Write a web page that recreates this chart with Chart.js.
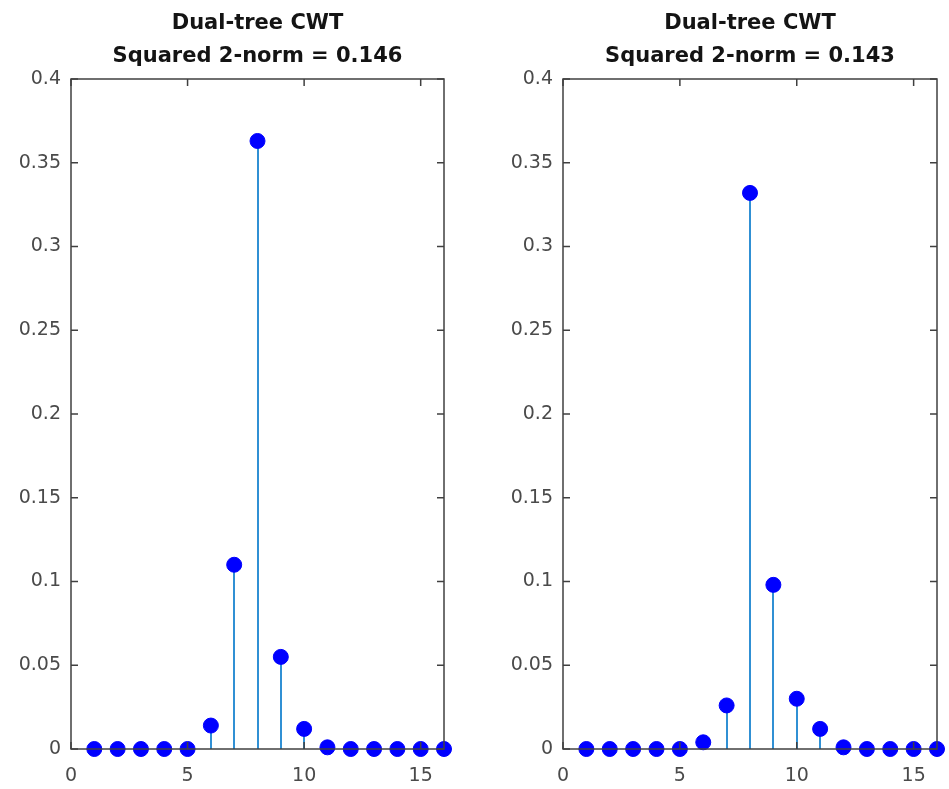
<!DOCTYPE html>
<html>
<head>
<meta charset="utf-8">
<script src="https://cdn.jsdelivr.net/npm/chart.js@4.4.1/dist/chart.umd.min.js"></script>
<style>
    body { margin: 0; background: #fff; }
    #wrap { position: relative; width: 949px; height: 789px; background: #fff; }
    canvas { position: absolute; top: 0; }
    #leftCanvas { left: 0; }
    #rightCanvas { left: 475px; }
</style>
</head>
<body>
<div id="wrap">
    <canvas id="leftCanvas" width="475" height="789"></canvas>
    <canvas id="rightCanvas" width="474" height="789"></canvas>
</div>
<script>
const sampleIndex = [1, 2, 3, 4, 5, 6, 7, 8, 9, 10, 11, 12, 13, 14, 15, 16];
const leftValues = [0, 0, 0, 0, 0, 0.014, 0.110, 0.363, 0.055, 0.012, 0.001, 0, 0, 0, 0, 0];
const rightValues = [0, 0, 0, 0, 0, 0.004, 0.026, 0.332, 0.098, 0.030, 0.012, 0.001, 0, 0, 0, 0];
const leftTitle = ['Dual-tree CWT', 'Squared 2-norm = 0.146'];
const rightTitle = ['Dual-tree CWT', 'Squared 2-norm = 0.143'];
const xTicks = [0, 5, 10, 15];
const yTicks = [0, 0.05, 0.1, 0.15, 0.2, 0.25, 0.3, 0.35, 0.4];
const yTickLabels = ['0', '0.05', '0.1', '0.15', '0.2', '0.25', '0.3', '0.35', '0.4'];

const stemColor = '#3090d4';
const markerColor = '#0000ff';
const axisColor = '#404040';
const labelColor = '#4a4a4a';

// stems go under the markers
const stemPlugin = {
    id: 'stems',
    beforeDatasetsDraw(chart) {
        const ctx = chart.ctx;
        const x = chart.scales.x;
        const y = chart.scales.y;
        const ds = chart.data.datasets[0].data;
        ctx.save();
        ctx.strokeStyle = stemColor;
        ctx.lineWidth = 2;
        ds.forEach(p => {
            const px = Math.round(x.getPixelForValue(p.x));
            ctx.beginPath();
            ctx.moveTo(px, y.getPixelForValue(0));
            ctx.lineTo(px, y.getPixelForValue(p.y));
            ctx.stroke();
        });
        ctx.restore();
    }
};

// matlab-like box with inward ticks, drawn on top (baseline crosses the dots)
const boxPlugin = {
    id: 'box',
    afterDatasetsDraw(chart) {
        const ctx = chart.ctx;
        const a = chart.chartArea;
        const x = chart.scales.x;
        const y = chart.scales.y;
        const tl = 7;
        ctx.save();
        ctx.strokeStyle = axisColor;
        ctx.lineWidth = 1.5;
        ctx.strokeRect(a.left, a.top, a.right - a.left, a.bottom - a.top);
        ctx.beginPath();
        xTicks.forEach(v => {
            const px = x.getPixelForValue(v);
            ctx.moveTo(px, a.bottom); ctx.lineTo(px, a.bottom - tl);
            ctx.moveTo(px, a.top); ctx.lineTo(px, a.top + tl);
        });
        yTicks.forEach(v => {
            const py = y.getPixelForValue(v);
            ctx.moveTo(a.left, py); ctx.lineTo(a.left + tl, py);
            ctx.moveTo(a.right, py); ctx.lineTo(a.right - tl, py);
        });
        ctx.stroke();
        ctx.restore();
    }
};

function makeStemChart(canvas, values, title, yAxisWidth, rightPad) {
    return new Chart(canvas.getContext('2d'), {
        type: 'scatter',
        data: {
            datasets: [{
                data: sampleIndex.map((v, i) => ({ x: v, y: values[i] })),
                backgroundColor: markerColor,
                borderColor: markerColor,
                borderWidth: 1,
                pointRadius: 7.5,
                pointHoverRadius: 7.5,
                clip: false
            }]
        },
        options: {
            responsive: false,
            animation: false,
            layout: { padding: { left: 0, right: rightPad, top: 0, bottom: 0 } },
            plugins: {
                legend: { display: false },
                tooltip: { enabled: false },
                title: {
                    display: true,
                    fullSize: false,
                    text: title,
                    color: '#141414',
                    font: { family: 'DejaVu Sans', size: 21, weight: 'bold', lineHeight: '33px' },
                    padding: { top: 7, bottom: 6 }
                }
            },
            scales: {
                x: {
                    type: 'linear',
                    min: 0,
                    max: 16,
                    grid: { display: false, drawTicks: false },
                    border: { display: false },
                    afterBuildTicks: axis => { axis.ticks = xTicks.map(v => ({ value: v })); },
                    afterFit: axis => { axis.height = 40; },
                    ticks: {
                        color: labelColor,
                        padding: 16,
                        maxRotation: 0,
                        font: { family: 'DejaVu Sans', size: 19 },
                        callback: v => String(v)
                    }
                },
                y: {
                    min: 0,
                    max: 0.4,
                    grid: { display: false, drawTicks: false },
                    border: { display: false },
                    afterBuildTicks: axis => { axis.ticks = yTicks.map(v => ({ value: v })); },
                    afterFit: axis => { axis.width = yAxisWidth; },
                    ticks: {
                        color: labelColor,
                        padding: 10,
                        font: { family: 'DejaVu Sans', size: 19 },
                        callback: (v, i) => yTickLabels[i]
                    }
                }
            }
        },
        plugins: [stemPlugin, boxPlugin]
    });
}

makeStemChart(document.getElementById('leftCanvas'), leftValues, leftTitle, 71, 31);
makeStemChart(document.getElementById('rightCanvas'), rightValues, rightTitle, 88, 12);
</script>
</body>
</html>
